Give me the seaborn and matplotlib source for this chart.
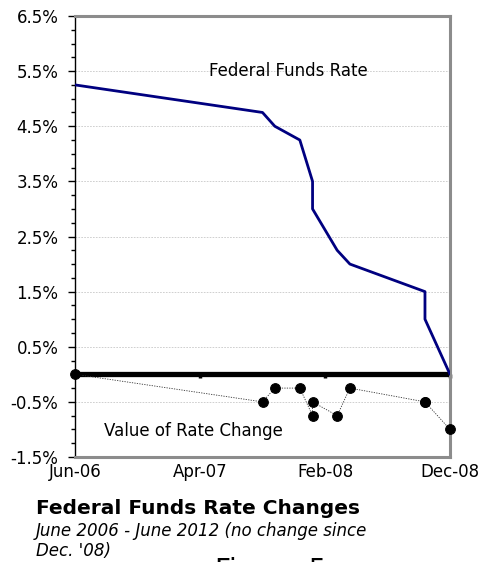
import matplotlib
matplotlib.use("Agg")
import matplotlib.pyplot as plt
import matplotlib.dates as mdates
from matplotlib.ticker import MultipleLocator, FuncFormatter
import pandas as pd
import seaborn as sns

# Federal funds target rate after each FOMC decision (percent)
change_dates = ["2006-06-01", "2007-09-01", "2007-10-01", "2007-12-01",
                "2008-01-01", "2008-01-01", "2008-03-01", "2008-04-01",
                "2008-10-01", "2008-10-01", "2008-12-01"]
fed_rate = [5.25, 4.75, 4.50, 4.25, 3.50, 3.00, 2.25, 2.00, 1.50, 1.00, 0.00]
rate_change = [0.00, -0.50, -0.25, -0.25, -0.75, -0.50, -0.75, -0.25,
               -0.50, -0.50, -1.00]
tick_dates = ["2006-06-01", "2007-04-01", "2008-02-01", "2008-12-01"]

df = pd.DataFrame({"date": pd.to_datetime(change_dates),
                   "rate": fed_rate, "change": rate_change})
ticks = pd.to_datetime(tick_dates)

sns.set_style("white")
plt.rcParams["font.family"] = ["DejaVu Sans"]
plt.rcParams["text.color"] = "black"
plt.rcParams["xtick.color"] = "black"
plt.rcParams["ytick.color"] = "black"
plt.rcParams["xtick.labelcolor"] = "black"
plt.rcParams["ytick.labelcolor"] = "black"

fig = plt.figure(figsize=(4.81, 5.62), dpi=100)
ax = fig.add_axes([75 / 481, 1 - 457 / 562, 375 / 481, 441 / 562])

# rate level
sns.lineplot(data=df, x="date", y="rate", estimator=None, sort=False,
             color="#000080", linewidth=2.0, ax=ax, zorder=4)
# size of each change
sns.lineplot(data=df, x="date", y="change", estimator=None, sort=False,
             color="#333333", linewidth=0.6, linestyle=(0, (1.5, 1.5)),
             marker="o", markersize=7, markerfacecolor="black",
             markeredgecolor="black", ax=ax, zorder=5, clip_on=False)

ax.set_xlim(ticks[0], ticks[-1])
ax.set_ylim(-1.5, 6.5)
ax.set_xlabel("")
ax.set_ylabel("")

# y axis: percent labels, quarter-point minor ticks, dotted grid
ax.set_yticks([-1.5 + i for i in range(9)])
ax.yaxis.set_minor_locator(MultipleLocator(0.25))
ax.yaxis.set_major_formatter(FuncFormatter(lambda v, p: f"{v:.1f}%"))
ax.tick_params(axis="y", which="major", direction="out", length=5, width=1,
               color="black", labelcolor="black", labelsize=12, pad=7,
               left=True)
ax.tick_params(axis="y", which="minor", direction="out", length=3, width=1,
               color="black", left=True)
ax.grid(axis="y", which="major", color="#c8c8c8", linestyle=(0, (2, 1.5)),
        linewidth=0.6)
ax.grid(axis="x", visible=False)

# x axis labels along the bottom of the frame
ax.set_xticks(ticks)
ax.xaxis.set_major_formatter(mdates.DateFormatter("%b-%y"))
ax.tick_params(axis="x", which="both", length=0, labelsize=12, pad=4,
               labelcolor="black")

for side in ("top", "right", "bottom"):
    ax.spines[side].set_color("#8c8c8c")
    ax.spines[side].set_linewidth(2.2)
ax.spines["left"].set_color("black")
ax.spines["left"].set_linewidth(1.0)

# heavy zero axis with short ticks
zero_frac = (0 - (-1.5)) / 8.0
zax = ax.secondary_xaxis(zero_frac)
zax.set_xticks(ticks)
zax.tick_params(axis="x", direction="out", length=3, width=2.5,
                color="black", labelbottom=False, labeltop=False,
                top=False, bottom=True)
zax.spines["bottom"].set_linewidth(3.8)
zax.spines["bottom"].set_color("black")
zax.spines["bottom"].set_capstyle("butt")
zax.spines["bottom"].set_zorder(3)

ax.text(0.568, 0.875, "Federal Funds Rate", transform=ax.transAxes,
        ha="center", va="center", fontsize=12, color="black")
ax.text(0.315, 0.059, "Value of Rate Change", transform=ax.transAxes,
        ha="center", va="center", fontsize=12, color="black")

fig.text(36 / 481, 1 - 514 / 562, "Federal Funds Rate Changes",
         fontsize=14.5, fontweight="bold", ha="left", va="baseline",
         color="black")
fig.text(36 / 481, 1 - 536 / 562, "June 2006 - June 2012 (no change since",
         fontsize=12, fontstyle="italic", ha="left", va="baseline",
         color="black")
fig.text(36 / 481, 1 - 556 / 562, "Dec. '08)",
         fontsize=12, fontstyle="italic", ha="left", va="baseline",
         color="black")
fig.text(215 / 481, 1 - 557 / 562, "Figure 5", fontsize=20,
         ha="left", va="top", color="black")

fig.savefig("out.png", dpi=100)
